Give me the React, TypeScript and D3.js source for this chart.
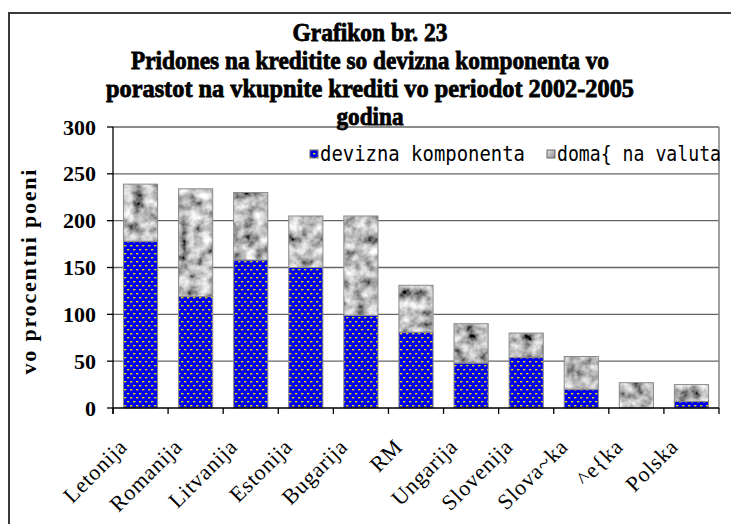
import React from "react";
import * as d3 from "d3";

const categories = ["Letonija", "Romanija", "Litvanija", "Estonija", "Bugarija", "RM", "Ungarija", "Slovenija", "Slova~ka", "^e{ka", "Polska"];
const deviznaValues = [178, 119, 158, 150, 99, 81, 48, 54, 20, 0, 7];
const domasnaValues = [61, 115, 72, 55, 106, 50, 42, 26, 35, 27, 18];
const seriesNames = ["devizna komponenta", "doma{ na valuta"];
const yTicks = [0, 50, 100, 150, 200, 250, 300];
const titleLines = [
  "Grafikon br. 23",
  "Pridones na kreditite so devizna komponenta vo",
  "porastot na vkupnite krediti vo periodot 2002-2005",
  "godina",
];
const yAxisTitle = "vo procentni poeni";

const W = 731;
const H = 524;
const plot = { left: 113, right: 719, top: 127, bottom: 408 };
const SERIF = "Liberation Serif, Times New Roman, Tinos, Noto Serif, DejaVu Serif, serif";

export default function App() {
  const rows = categories.map((c, i) => ({ cat: c, dev: deviznaValues[i], dom: domasnaValues[i] }));
  const stack = d3.stack<any>().keys(["dev", "dom"])(rows);

  const x = d3
    .scaleBand<string>()
    .domain(categories)
    .range([plot.left, plot.right])
    .paddingInner(0.38)
    .paddingOuter(0.19);
  const y = d3.scaleLinear().domain([0, 300]).range([plot.bottom, plot.top]);
  const step = x.step();
  const boundaries = d3.range(categories.length + 1).map((i) => plot.left + i * step);

  const titleWidths = [155, 478, 528, 67];
  const titleBaselines = [41, 68.5, 96.5, 125];
  const titleCx = 370;

  return (
    <svg width={W} height={H} style={{ position: "absolute", left: 0, top: 0, background: "#fff" }}>
      <defs>
        <pattern id="bluePat" width="6" height="8" patternUnits="userSpaceOnUse">
          <rect width="6" height="8" fill="#0000f0" />
          <rect x="1" y="1" width="2.4" height="1.4" fill="#e8d800" />
          <rect x="4" y="5" width="2.4" height="1.4" fill="#e8d800" />
          <rect x="-2" y="5" width="2.4" height="1.4" fill="#e8d800" />
        </pattern>
        <filter id="granite" x="0" y="0" width="100%" height="100%">
          <feTurbulence type="fractalNoise" baseFrequency="0.09" numOctaves="3" seed="11" result="noise" />
          <feColorMatrix
            in="noise"
            type="matrix"
            values="1.5 0 0 0 -0.24  1.5 0 0 0 -0.24  1.5 0 0 0 -0.24  0 0 0 0 1"
            result="gray"
          />
          <feComposite in="gray" in2="SourceGraphic" operator="in" />
        </filter>
        <linearGradient id="legGray" x1="0" y1="0" x2="1" y2="1">
          <stop offset="0" stopColor="#e8e8e8" />
          <stop offset="0.5" stopColor="#b8b8b8" />
          <stop offset="1" stopColor="#909090" />
        </linearGradient>
      </defs>

      {/* outer frame */}
      <rect x={9} y={13} width={740} height={530} fill="none" stroke="#3a3a3a" strokeWidth={2} />

      {/* gridlines */}
      {yTicks.filter((t) => t > 0).map((t) => (
        <line key={t} x1={plot.left} x2={plot.right} y1={y(t)} y2={y(t)} stroke="#666" strokeWidth={1.3} />
      ))}
      <line x1={plot.right} x2={plot.right} y1={plot.top} y2={plot.bottom} stroke="#808080" strokeWidth={1.5} />

      {/* bars */}
      {stack.map((s, si) =>
        s.map((d, i) => {
          const x0 = x(categories[i]) as number;
          const y0 = y(d[1]);
          const h = y(d[0]) - y(d[1]);
          if (h <= 0) return null;
          return (
            <g key={`${si}-${i}`}>
              <rect
                x={x0}
                y={y0}
                width={x.bandwidth()}
                height={h}
                fill={si === 0 ? "url(#bluePat)" : "#b0b0b0"}
                filter={si === 1 ? "url(#granite)" : undefined}
              />
              <rect x={x0} y={y0} width={x.bandwidth()} height={h} fill="none" stroke="#8a8a8a" strokeWidth={1} />
            </g>
          );
        })
      )}

      {/* axes */}
      <line x1={plot.left} x2={plot.left} y1={plot.top} y2={plot.bottom + 6} stroke="#000" strokeWidth={1.3} />
      <line x1={plot.left} x2={plot.right} y1={plot.bottom} y2={plot.bottom} stroke="#000" strokeWidth={1.3} />
      {yTicks.map((t) => (
        <g key={t}>
          <line x1={plot.left - 6} x2={plot.left} y1={y(t)} y2={y(t)} stroke="#000" strokeWidth={1.3} />
          <text x={96} y={y(t) + 7.5} textAnchor="end" fontFamily={SERIF} fontWeight="bold" fontSize={22}>
            {t}
          </text>
        </g>
      ))}
      {boundaries.map((b, i) => (
        <line key={i} x1={b} x2={b} y1={plot.bottom} y2={plot.bottom + 6} stroke="#000" strokeWidth={1.3} />
      ))}

      {/* x labels */}
      {categories.map((c) => {
        const cx = (x(c) as number) + x.bandwidth() / 2 - 12;
        const cy = plot.bottom + 40;
        return (
          <text
            key={c}
            transform={`translate(${cx},${cy}) rotate(-45)`}
            textAnchor="end"
            fontFamily={SERIF}
            fontSize={22}
            letterSpacing={0.8}
          >
            {c}
          </text>
        );
      })}

      {/* y axis title */}
      <text
        transform={`translate(36,272) rotate(-90)`}
        textAnchor="middle"
        fontFamily={SERIF}
        fontWeight="bold"
        fontSize={22}
        textLength={205}
        lengthAdjust="spacing"
      >
        {yAxisTitle}
      </text>

      {/* legend */}
      <rect x={310} y={150} width={8} height={8} fill="url(#bluePat)" stroke="#666" strokeWidth={1} />
      <text
        x={320}
        y={161}
        fontFamily="DejaVu Sans Mono, monospace"
        fontSize={21}
        textLength={205}
        lengthAdjust="spacingAndGlyphs"
      >
        {seriesNames[0]}
      </text>
      <rect x={547} y={150} width={8} height={8} fill="url(#legGray)" stroke="#666" strokeWidth={1} />
      <text
        x={557}
        y={161}
        fontFamily="DejaVu Sans Mono, monospace"
        fontSize={21}
        textLength={164}
        lengthAdjust="spacingAndGlyphs"
      >
        {seriesNames[1]}
      </text>

      {/* title */}
      {titleLines.map((t, i) => (
        <text
          key={i}
          x={titleCx}
          y={titleBaselines[i]}
          textAnchor="middle"
          fontFamily={SERIF}
          fontWeight="bold"
          fontSize={25}
          stroke="#000"
          strokeWidth={0.8}
          textLength={titleWidths[i]}
          lengthAdjust="spacingAndGlyphs"
        >
          {t}
        </text>
      ))}
    </svg>
  );
}
